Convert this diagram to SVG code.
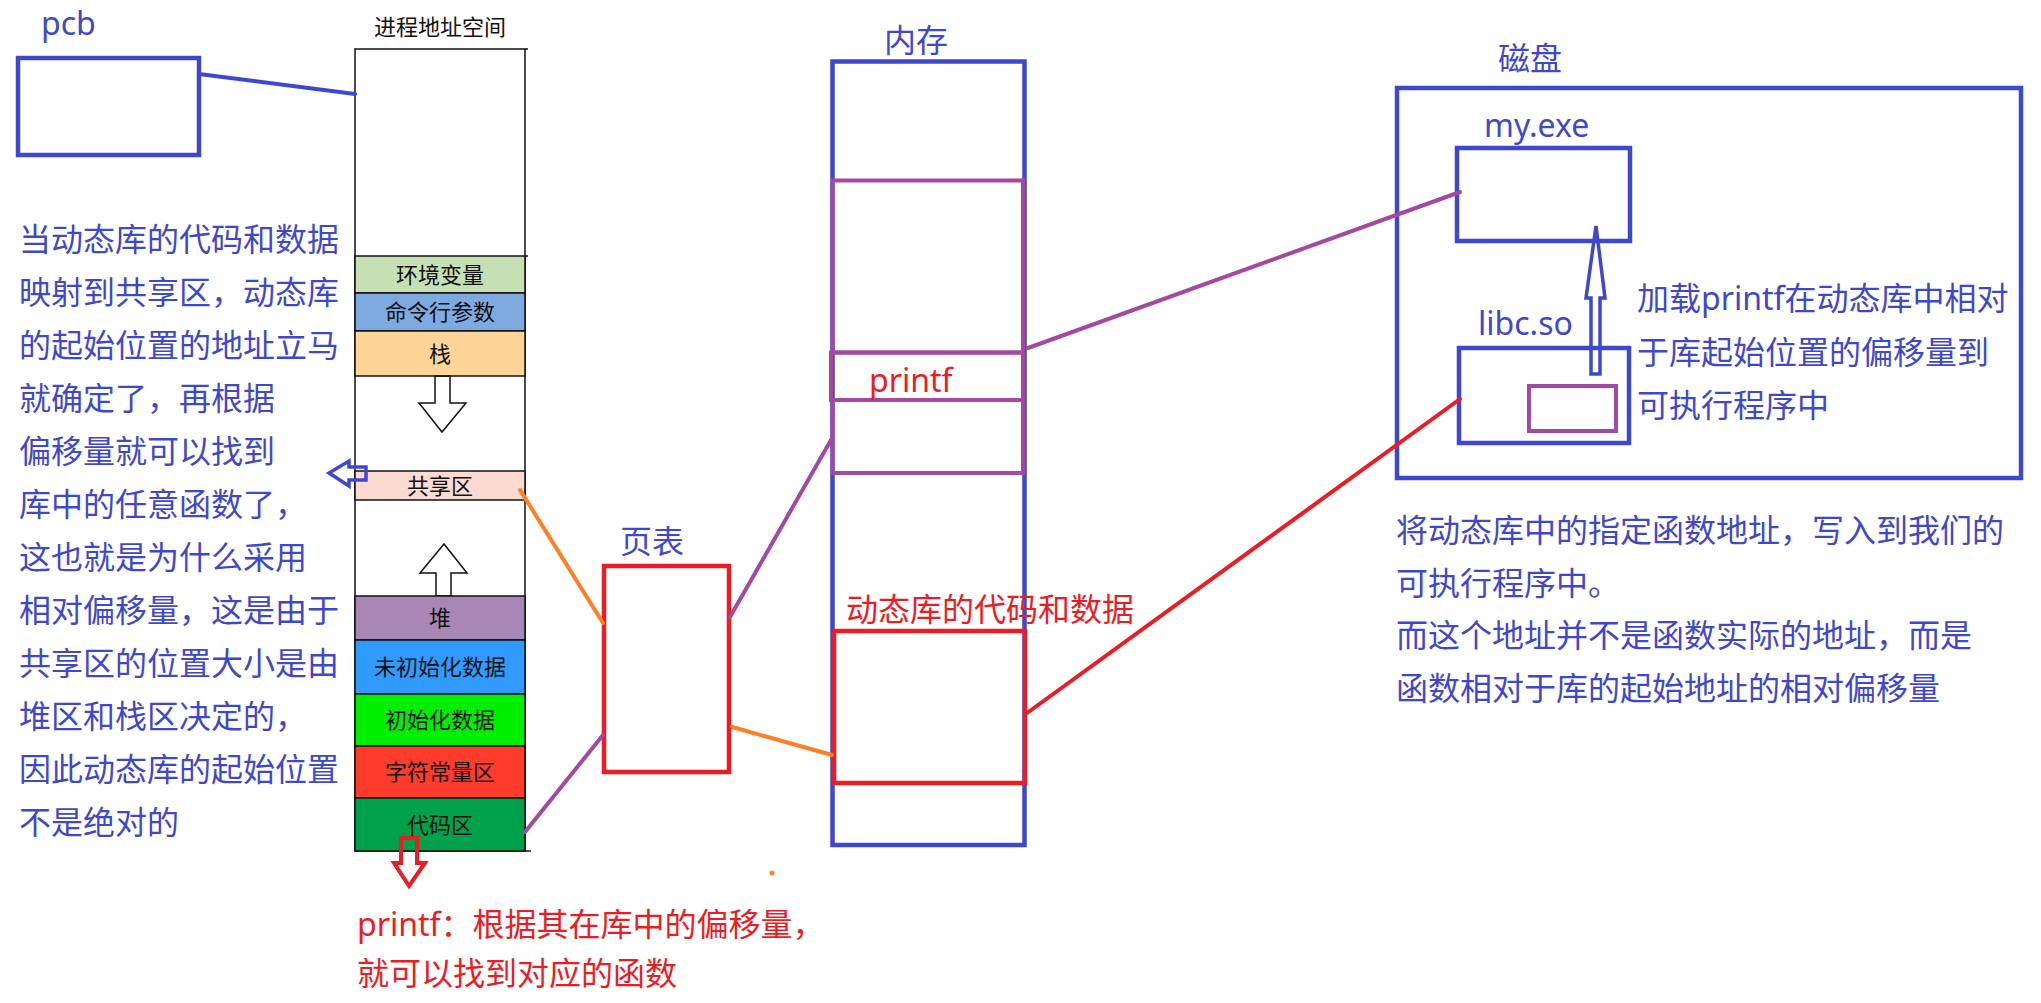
<svg xmlns="http://www.w3.org/2000/svg" width="2041" height="1003" viewBox="0 0 2041 1003">
<style>
text{font-family:"Noto Sans","Noto Sans CJK SC",sans-serif}
.t32{font-size:32px}
.blue{fill:#3f48cc}
.red{fill:#ed1c24}
.seg{stroke:#111;stroke-width:1.5}
.lbl{font-size:22px;fill:#111;text-anchor:middle}
.bbox{fill:none;stroke:#3f48cc;stroke-width:4.5}
.pbox{fill:none;stroke:#a349a4;stroke-width:4}
.rbox{fill:none;stroke:#ed1c24;stroke-width:4.5}
.ln{fill:none;stroke-width:4;stroke-linecap:round}
.arr{fill:none;stroke:#111;stroke-width:1.5}
</style>
<rect width="2041" height="1003" fill="#fff"/>

<g id="pcb">
<text class="t32 blue" x="41" y="35">pcb</text>
<rect class="bbox" x="18" y="58" width="181" height="97"/>
</g>

<g id="address-space">
<text x="440" y="35" font-size="22" fill="#111" text-anchor="middle">进程地址空间</text>
<rect x="355" y="49" width="170" height="802" fill="#fff" class="seg"/>
<line x1="525" y1="49" x2="528" y2="49" stroke="#111" stroke-width="1.5"/>
<line x1="525" y1="256" x2="528" y2="256" stroke="#111" stroke-width="1.5"/>
<line x1="525" y1="851" x2="531" y2="851" stroke="#111" stroke-width="1.5"/>
<rect class="seg" x="355" y="256" width="170" height="37" fill="#c6e0b4"/>
<text class="lbl" x="440" y="283">环境变量</text>
<rect class="seg" x="355" y="293" width="170" height="38" fill="#7fa9e1"/>
<text class="lbl" x="440" y="320">命令行参数</text>
<rect class="seg" x="355" y="331" width="170" height="45" fill="#ffd597"/>
<text class="lbl" x="440" y="362">栈</text>
<polygon class="arr" points="435,376 450,376 450,403 466,403 442,432 419,403 435,403" fill="#fff"/>
<rect class="seg" x="355" y="471" width="170" height="29" fill="#fbdad2"/>
<text class="lbl" x="440" y="494">共享区</text>
<polygon class="arr" points="436,596 436,573 420,573 444,544 467,573 451,573 451,596" fill="#fff"/>
<rect class="seg" x="355" y="596" width="170" height="44" fill="#a886b6"/>
<text class="lbl" x="440" y="626">堆</text>
<rect class="seg" x="355" y="640" width="170" height="54" fill="#2f9bff"/>
<text class="lbl" x="440" y="675">未初始化数据</text>
<rect class="seg" x="355" y="694" width="170" height="52" fill="#00ee00"/>
<text class="lbl" x="440" y="728">初始化数据</text>
<rect class="seg" x="355" y="746" width="170" height="52" fill="#ff3b2b"/>
<text class="lbl" x="440" y="780">字符常量区</text>
<rect class="seg" x="355" y="798" width="170" height="53" fill="#00a14b"/>
<text class="lbl" x="440" y="833">代码区</text>
</g>

<g id="left-note">
<polygon points="329,473 349,461 349,467 366,467 366,480 349,480 349,486" fill="none" stroke="#3f48cc" stroke-width="3.5"/>
<g class="t32 blue">
<text x="19" y="250.5">当动态库的代码和数据</text>
<text x="19" y="303.5">映射到共享区，动态库</text>
<text x="19" y="356.5">的起始位置的地址立马</text>
<text x="19" y="409.5">就确定了，再根据</text>
<text x="19" y="462.5">偏移量就可以找到</text>
<text x="19" y="515.5">库中的任意函数了，</text>
<text x="19" y="568.5">这也就是为什么采用</text>
<text x="19" y="621.5">相对偏移量，这是由于</text>
<text x="19" y="674.5">共享区的位置大小是由</text>
<text x="19" y="727.5">堆区和栈区决定的，</text>
<text x="19" y="780.5">因此动态库的起始位置</text>
<text x="19" y="833.5">不是绝对的</text>
</g>
</g>

<g id="bottom-note">
<polygon points="401,838 417,838 417,863 425,863 409,886 394,863 401,863" fill="none" stroke="#ed1c24" stroke-width="4"/>
<text class="t32 red" x="357" y="936">printf：根据其在库中的偏移量，</text>
<text class="t32 red" x="357" y="985">就可以找到对应的函数</text>
<circle cx="772" cy="873" r="2.5" fill="#ff7f27"/>
</g>

<g id="page-table">
<text class="t32 blue" x="620" y="553">页表</text>
<rect class="rbox" x="604" y="566" width="125" height="206"/>
</g>

<g id="memory">
<text class="t32 blue" x="884" y="52">内存</text>
<rect class="bbox" x="832.5" y="61.5" width="192" height="783.5"/>
<rect class="pbox" x="832.5" y="180.5" width="190.5" height="172"/>
<rect class="pbox" x="831" y="352.5" width="192" height="47.5"/>
<rect class="pbox" x="832.5" y="400" width="190.5" height="73"/>
<text class="t32 red" x="869" y="392">printf</text>
<text class="t32 red" x="846" y="621">动态库的代码和数据</text>
<rect class="rbox" x="834" y="631" width="191" height="152" stroke-width="4"/>
</g>

<g id="disk">
<text class="t32 blue" x="1498" y="70">磁盘</text>
<rect class="bbox" x="1397" y="88" width="624" height="390"/>
</g>

<g id="my-exe">
<text class="t32 blue" x="1484" y="137">my.exe</text>
<rect class="bbox" x="1457" y="148" width="173" height="93"/>
</g>

<g id="libc-so">
<text class="t32 blue" x="1478" y="335">libc.so</text>
<rect class="bbox" x="1459" y="348" width="170" height="95"/>
<rect class="pbox" x="1529" y="386" width="87" height="45"/>
</g>

<g id="load-note">
<polygon points="1596,226 1605,298 1600,298 1600,374 1591,374 1591,298 1586,298" fill="none" stroke="#3f48cc" stroke-width="3.5"/>
<text class="t32 blue" x="1637" y="310">加载printf在动态库中相对</text>
<text class="t32 blue" x="1637" y="364">于库起始位置的偏移量到</text>
<text class="t32 blue" x="1637" y="417">可执行程序中</text>
</g>

<g id="right-note" class="t32 blue">
<text x="1396" y="542">将动态库中的指定函数地址，写入到我们的</text>
<text x="1396" y="595">可执行程序中。</text>
<text x="1396" y="647">而这个地址并不是函数实际的地址，而是</text>
<text x="1396" y="700">函数相对于库的起始地址的相对偏移量</text>
</g>

<g id="connectors">
<line class="ln" x1="199" y1="74" x2="355" y2="94" stroke="#3f48cc"/>
<line class="ln" x1="520" y1="490" x2="603" y2="623" stroke="#ff7f27"/>
<line class="ln" x1="525" y1="832" x2="603" y2="735" stroke="#a349a4"/>
<line class="ln" x1="730" y1="617" x2="831" y2="440" stroke="#a349a4"/>
<line class="ln" x1="732" y1="727" x2="832" y2="755" stroke="#ff7f27"/>
<line class="ln" x1="1028" y1="348" x2="1460" y2="192" stroke="#a349a4"/>
<line class="ln" x1="1027" y1="713" x2="1460" y2="399" stroke="#ed1c24"/>
</g>
</svg>
